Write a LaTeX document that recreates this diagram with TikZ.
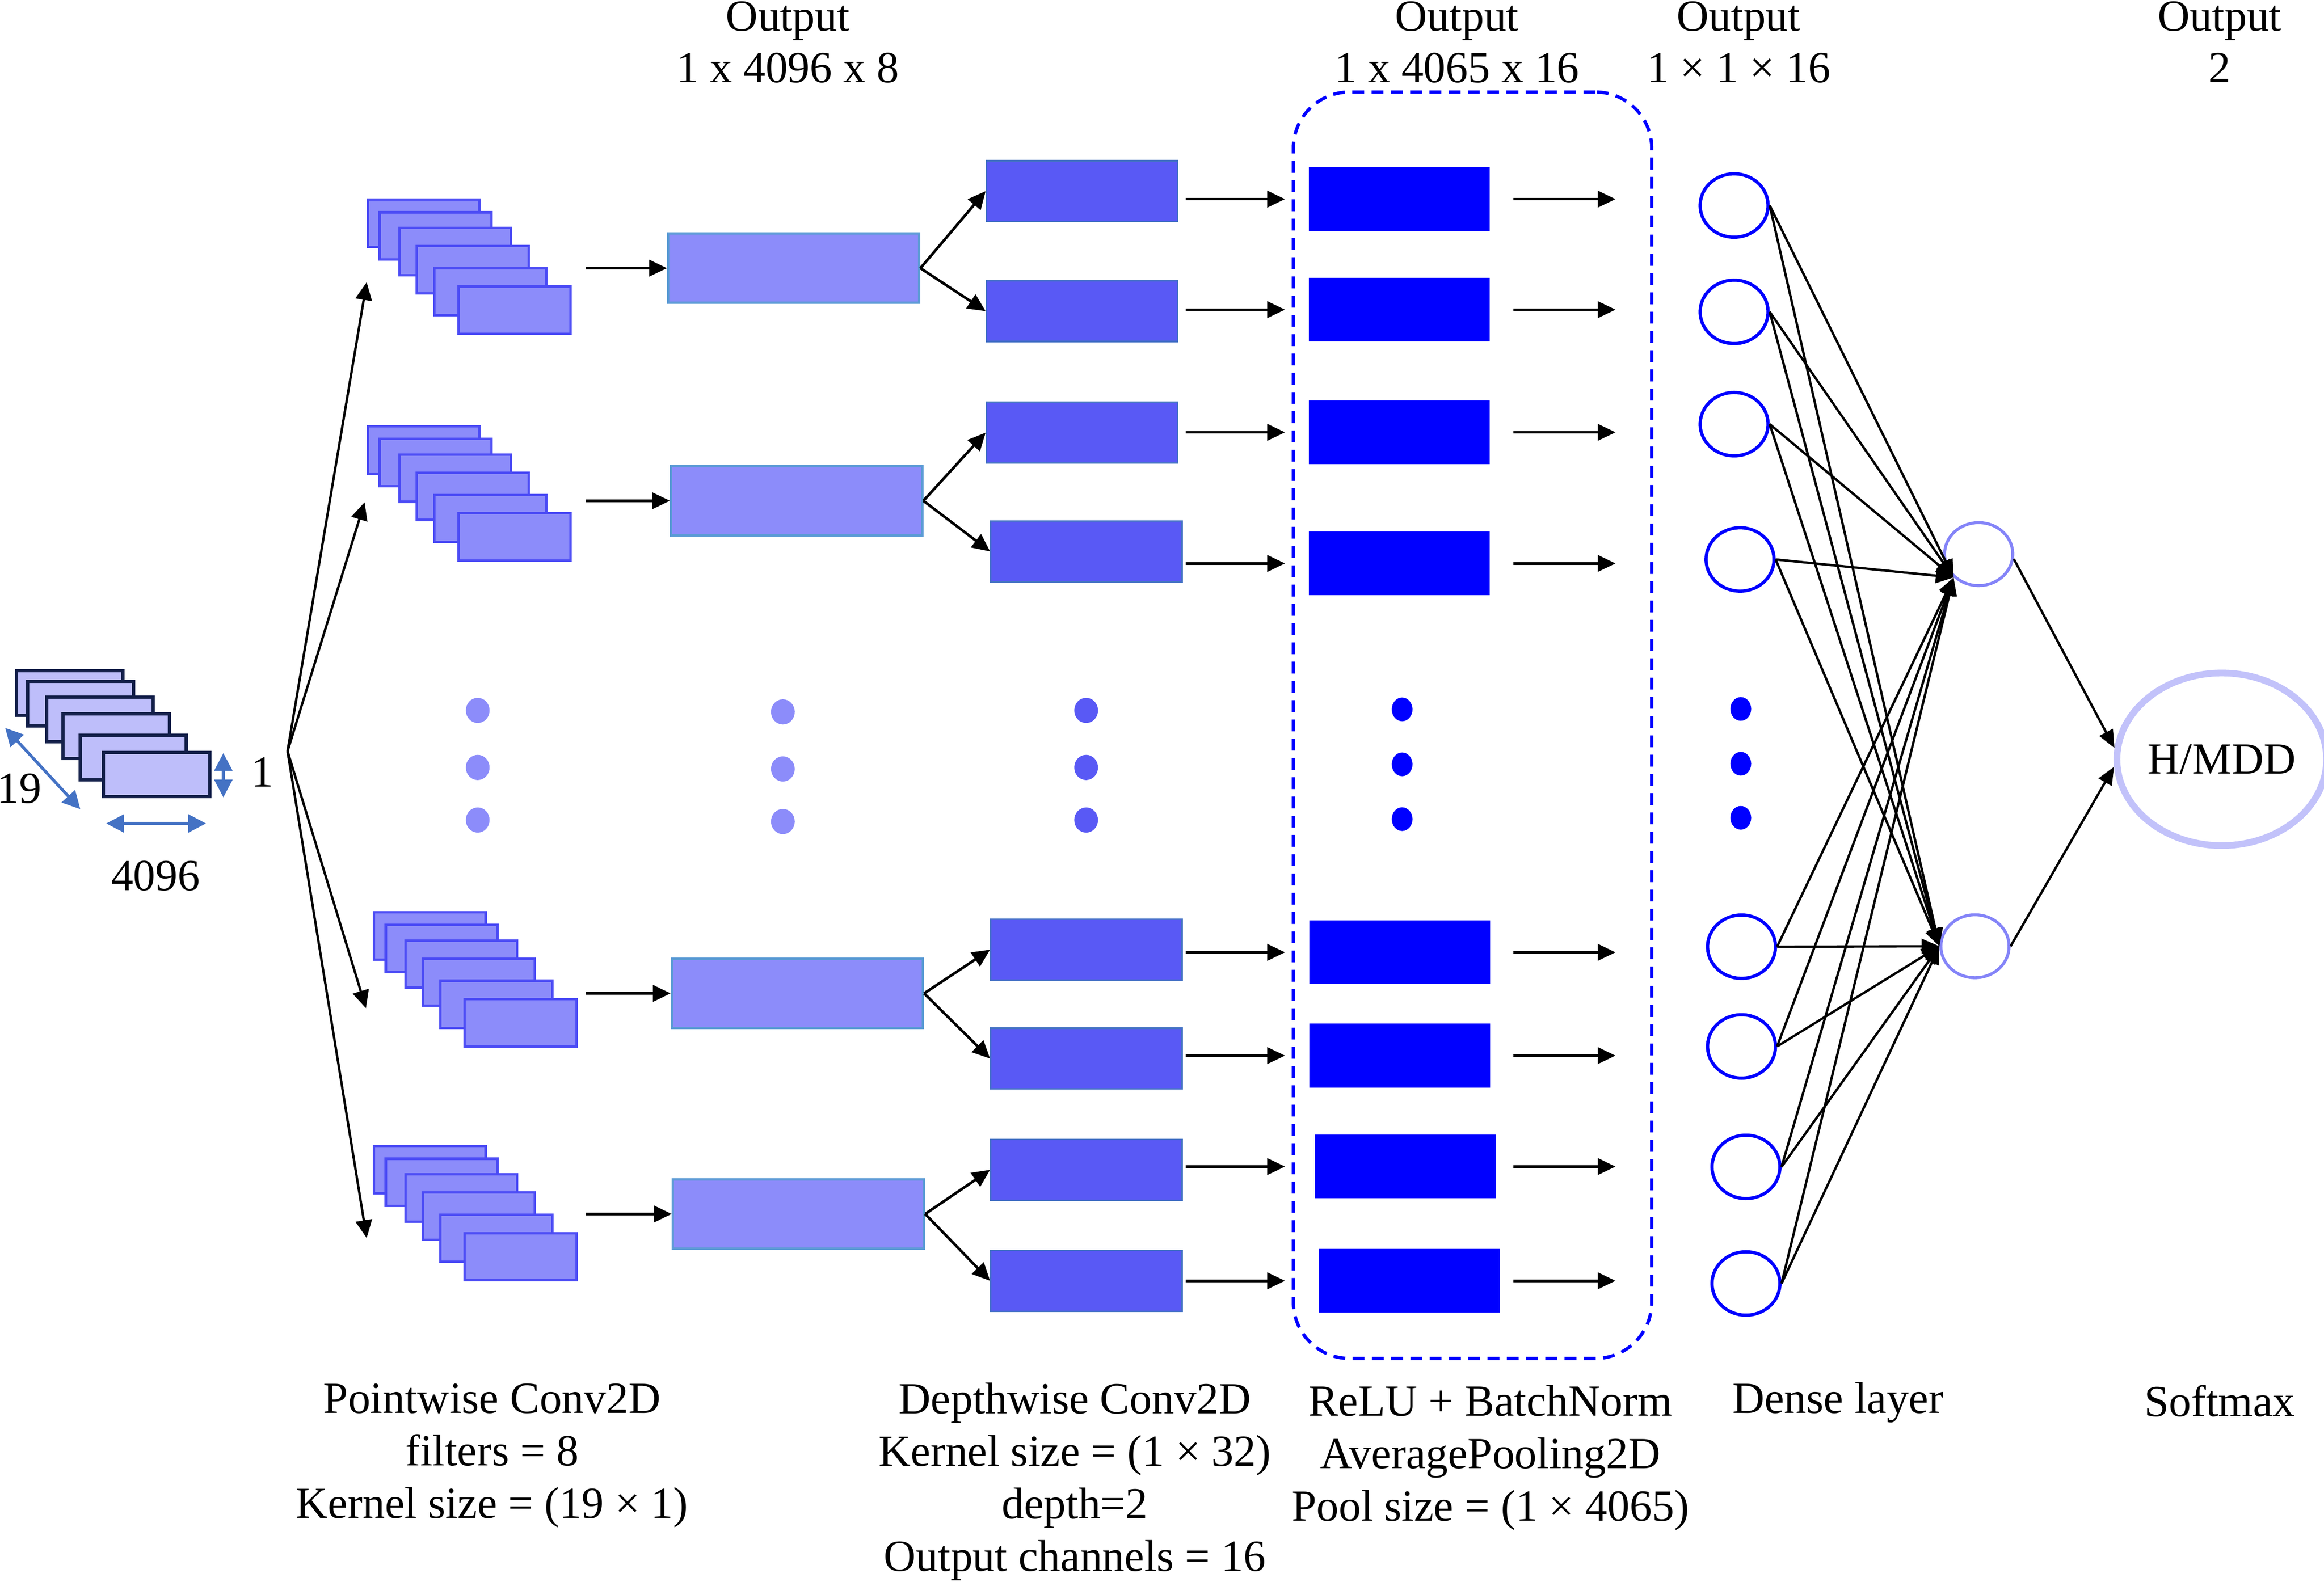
\documentclass[tikz,border=0pt]{standalone}
\usepackage{fontspec}
\setmainfont{Liberation Serif}
\usetikzlibrary{arrows.meta,shapes.geometric,calc}
\definecolor{inF}{HTML}{BEBEFA}
\definecolor{inD}{HTML}{14204A}
\definecolor{pwF}{HTML}{8C8CFA}
\definecolor{pwD}{HTML}{4B4BF5}
\definecolor{bigD}{HTML}{5B9BD5}
\definecolor{dwF}{HTML}{5959F5}
\definecolor{dwD}{HTML}{4472C4}
\definecolor{dimC}{HTML}{4472C4}
\definecolor{pureB}{HTML}{0000FF}
\definecolor{outD}{HTML}{8484F8}
\definecolor{hmD}{HTML}{C2C2FA}
\begin{document}
\begin{tikzpicture}[x=1pt,y=-1pt,
  font=\fontsize{30}{35.5}\selectfont,
  inrect/.style={draw=inD, fill=inF, line width=2.2pt, minimum width=71.8pt, minimum height=30pt, inner sep=0pt},
  pwrect/.style={draw=pwD, fill=pwF, line width=1.6pt, minimum width=75.4pt, minimum height=31.9pt, inner sep=0pt},
  bigrect/.style={draw=bigD, fill=pwF, line width=1.6pt, minimum width=169.4pt, minimum height=46.6pt, inner sep=0pt},
  dwrect/.style={draw=dwD, fill=dwF, line width=1pt, minimum width=129pt, minimum height=41pt, inner sep=0pt},
  relurect/.style={fill=pureB, minimum width=122pt, minimum height=43pt, inner sep=0pt},
  dense/.style={ellipse, draw=pureB, line width=2.2pt, minimum width=45.8pt, minimum height=42.8pt, inner sep=0pt},
  outn/.style={ellipse, draw=outD, line width=2pt, minimum width=46pt, minimum height=42.5pt, inner sep=0pt},
  hmn/.style={ellipse, draw=hmD, line width=4.5pt, minimum width=129.5pt, minimum height=116.5pt, inner sep=0pt},
  dotA/.style={ellipse, fill=pwF, minimum width=16pt, minimum height=17pt, inner sep=0pt},
  dotB/.style={ellipse, fill=dwF, minimum width=16pt, minimum height=17pt, inner sep=0pt},
  dotC/.style={ellipse, fill=pureB, minimum width=14pt, minimum height=16pt, inner sep=0pt},
  arr/.style={line width=1.8pt, -{Triangle[length=12pt,width=11pt]}},
  conn/.style={line width=1.6pt, -{Triangle[length=12pt,width=10pt]}},
  dimarr/.style={draw=dimC, line width=2pt, {Triangle[length=12pt,width=12pt]}-{Triangle[length=12pt,width=12pt]}},
  lbl/.style={anchor=base, align=center, inner sep=0pt},
  toplbl/.style={anchor=base, align=center, inner sep=0pt, font=\fontsize{30}{34.8}\selectfont}
]
\useasboundingbox (0,0) rectangle (1568,1067.7);

% dashed group box
\node[draw=pureB, dash pattern=on 8pt off 5pt, line width=2.2pt, rounded corners=38pt,
      minimum width=241.8pt, minimum height=854.8pt, inner sep=0pt] (box) at (993.5,489.5) {};

% input stack
\foreach \i/\x/\y in {1/47.05/467.7, 2/54.4/474.9, 3/67.5/485.55, 4/78.5/496.8, 5/89.85/511.25, 6/105.6/522.75}
  \node[inrect] (in\i) at (\x,\y) {};
\coordinate (dgA) at (3.5,491.3);
\coordinate (dgB) at (54.2,546.2);
\coordinate (vtA) at (150.7,508.3);
\coordinate (vtB) at (150.7,538.2);
\coordinate (hzA) at (71.7,555.8);
\coordinate (hzB) at (139,555.8);
\draw[dimarr] (dgA) -- (dgB);
\draw[dimarr] (vtA) -- (vtB);
\draw[dimarr] (hzA) -- (hzB);
\node[lbl] (l19) at (13,542) {19};
\node[lbl] (l1) at (177,531) {1};
\node[lbl] (l4096) at (105,601) {4096};

% pointwise stacks
\foreach \s/\ox/\oy in {1/247.4/134, 2/247.4/287, 3/251.5/615, 4/251.5/772.8}
  \foreach \i/\dx/\dy in {1/0/0, 2/8/8.5, 3/21.3/19, 4/33/31.2, 5/44.9/46.2, 6/61.2/58.7}
    \node[pwrect] (s\s-\i) at (\ox+\dx+38.5, \oy+\dy+16.75) {};

% fan-out from input
\coordinate (apex) at (194,507);
\coordinate (t1) at (247.4,190.5);
\coordinate (t2) at (246,339);
\coordinate (t3) at (246.9,680.5);
\coordinate (t4) at (247.4,835.6);
\foreach \k in {1,...,4} \draw[arr, line width=1.6pt] (apex) -- (t\k);

% pointwise outputs
\node[bigrect] (P1) at (535.5,181) {};
\node[bigrect] (P2) at (537.5,338) {};
\node[bigrect] (P3) at (538,670.5) {};
\node[bigrect] (P4) at (538.7,819.4) {};
\coordinate (cPW) at (395,0);
\foreach \k in {1,...,4} \draw[arr] (cPW |- P\k.west) -- (P\k.west);

% depthwise
\node[dwrect] (D1) at (730,129) {};
\node[dwrect] (D2) at (730,210) {};
\node[dwrect] (D3) at (730,292) {};
\node[dwrect] (D4) at (733,372.2) {};
\node[dwrect] (D5) at (733,641) {};
\node[dwrect] (D6) at (733,714.5) {};
\node[dwrect] (D7) at (733,789.6) {};
\node[dwrect] (D8) at (733,864.5) {};
\draw[arr] (P1.east) -- (D1.west);
\draw[arr] (P1.east) -- (D2.west);
\draw[arr] (P2.east) -- (D3.west);
\draw[arr] (P2.east) -- (D4.west);
\draw[arr] (P3.east) -- (D5.west);
\draw[arr] (P3.east) -- (D6.west);
\draw[arr] (P4.east) -- (D7.west);
\draw[arr] (P4.east) -- (D8.west);

% relu + pooling
\node[relurect] (R1) at (944.2,134.4) {};
\node[relurect] (R2) at (944.2,209) {};
\node[relurect] (R3) at (944.2,291.8) {};
\node[relurect] (R4) at (944.2,380.3) {};
\node[relurect] (R5) at (944.4,642.8) {};
\node[relurect] (R6) at (944.4,712.5) {};
\node[relurect] (R7) at (948.1,787.4) {};
\node[relurect] (R8) at (950.9,864.5) {};
\coordinate (cA) at (800,0);
\coordinate (cB) at (867,0);
\coordinate (cC) at (1021,0);
\coordinate (cD) at (1090,0);
\foreach \k in {1,...,8} {
  \draw[arr] (cA |- R\k.west) -- (cB |- R\k.west);
  \draw[arr] (cC |- R\k.east) -- (cD |- R\k.east);
}

% dots
\foreach \r/\y in {1/479.5, 2/518, 3/553.5} {
  \node[dotA] (dt1-\r) at (322.3,\y) {};
  \node[dotA] (dt2-\r) at (528.2,\y+1) {};
  \node[dotB] (dt3-\r) at (732.8,\y) {};
}
\foreach \r/\y in {1/478.8, 2/515.9, 3/552.9} \node[dotC] (dt4-\r) at (946,\y) {};
\foreach \r/\y in {1/478.5, 2/515.5, 3/552} \node[dotC] (dt5-\r) at (1174.5,\y) {};

% dense layer
\node[dense] (N1) at (1170,138.7) {};
\node[dense] (N2) at (1170,210.5) {};
\node[dense] (N3) at (1170,286.3) {};
\node[dense] (N4) at (1174,377.6) {};
\node[dense] (N5) at (1175,639) {};
\node[dense] (N6) at (1175,706.3) {};
\node[dense] (N7) at (1178,787.6) {};
\node[dense] (N8) at (1178,866.3) {};

% output neurons
\node[outn] (O1) at (1335,374) {};
\node[outn] (O2) at (1332.5,638.7) {};
\node[hmn] (H) at (1499,512.5) {H/MDD};

\foreach \k in {1,...,8} {
  \draw[conn] (N\k.east) -- (O1.223);
  \draw[conn] (N\k.east) -- (O2.west);
}
\draw[conn] (O1.-8) -- (H.174);
\draw[conn] (O2.east) -- (H.184);

% labels (anchor = baseline of the last line)
\node[toplbl] (tOut1) at (531.5,55.6) {Output\\1 x 4096 x 8};
\node[toplbl] (tOut2) at (983,55.6) {Output\\1 x 4065 x 16};
\node[toplbl] (tOut3) at (1173,55.6) {Output\\1 × 1 × 16};
\node[toplbl] (tOut4) at (1497.6,55.6) {Output\\2};

\node[lbl] (tPW) at (332,1024.7) {Pointwise Conv2D\\filters = 8\\Kernel size = (19 × 1)};
\node[lbl] (tDW) at (725.2,1060.5) {Depthwise Conv2D\\Kernel size = (1 × 32)\\depth=2\\Output channels = 16};
\node[lbl] (tRB) at (1005.6,1026.7) {ReLU + BatchNorm\\AveragePooling2D\\Pool size = (1 × 4065)};
\node[lbl] (tDL) at (1240,953.7) {Dense layer};
\node[lbl] (tSM) at (1497.6,955.9) {Softmax};
\end{tikzpicture}
\end{document}
